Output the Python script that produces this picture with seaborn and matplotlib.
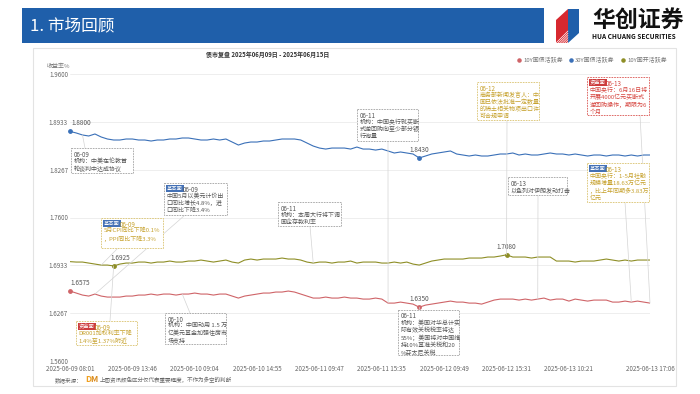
import matplotlib
matplotlib.use("Agg")
import numpy as np
import pandas as pd
import matplotlib.pyplot as plt
import seaborn as sns
from matplotlib.patches import Rectangle, Polygon, ConnectionPatch

# ---- data ----
series_names = ['10Y国债活跃券', '30Y国债活跃券', '10Y国开活跃券']
series_colors = ['#cf6468', '#3a70b8', '#8e8e26']

red_10y = [1.6575, 1.6547, 1.6519, 1.6505, 1.6533, 1.6505, 1.6491, 1.6491, 1.6491, 1.6505,
           1.6505, 1.6519, 1.6519, 1.6533, 1.6519, 1.6533, 1.6533, 1.6519, 1.6533, 1.6533,
           1.6547, 1.6533, 1.6533, 1.6519, 1.6533, 1.6533, 1.6505, 1.6477, 1.6505, 1.6519,
           1.6533, 1.6547, 1.6547, 1.6561, 1.6561, 1.6575, 1.6561, 1.6533, 1.6505, 1.6477,
           1.6477, 1.6491, 1.6477, 1.6477, 1.6491, 1.6477, 1.6477, 1.6463, 1.6463, 1.6477,
           1.6463, 1.6407, 1.6407, 1.6421, 1.6407, 1.6393, 1.6350, 1.6379, 1.6393, 1.6407,
           1.6421, 1.6435, 1.6421, 1.6421, 1.6407, 1.6407, 1.6393, 1.6421, 1.6449, 1.6463,
           1.6463, 1.6463, 1.6449, 1.6463, 1.6449, 1.6463, 1.6477, 1.6449, 1.6463, 1.6463,
           1.6435, 1.6463, 1.6449, 1.6435, 1.6449, 1.6449, 1.6449, 1.6421, 1.6421, 1.6435,
           1.6421, 1.6435, 1.6421, 1.6407]

blue_30y = [1.8800, 1.8778, 1.8750, 1.8736, 1.8764, 1.8722, 1.8694, 1.8680, 1.8680, 1.8694,
            1.8694, 1.8680, 1.8680, 1.8666, 1.8680, 1.8680, 1.8694, 1.8694, 1.8708, 1.8708,
            1.8694, 1.8680, 1.8680, 1.8694, 1.8680, 1.8694, 1.8652, 1.8610, 1.8638, 1.8652,
            1.8652, 1.8666, 1.8666, 1.8680, 1.8694, 1.8694, 1.8694, 1.8680, 1.8638, 1.8596,
            1.8568, 1.8554, 1.8568, 1.8568, 1.8568, 1.8554, 1.8582, 1.8554, 1.8554, 1.8540,
            1.8554, 1.8527, 1.8499, 1.8513, 1.8499, 1.8485, 1.8430, 1.8457, 1.8485, 1.8499,
            1.8513, 1.8527, 1.8485, 1.8471, 1.8457, 1.8471, 1.8457, 1.8457, 1.8471, 1.8485,
            1.8485, 1.8499, 1.8471, 1.8485, 1.8471, 1.8471, 1.8485, 1.8499, 1.8485, 1.8485,
            1.8471, 1.8485, 1.8471, 1.8457, 1.8471, 1.8471, 1.8457, 1.8471, 1.8471, 1.8457,
            1.8471, 1.8457, 1.8471, 1.8471]

olive_10y_cdb = [1.6985, 1.6979, 1.6979, 1.6965, 1.6951, 1.6937, 1.6937, 1.6925, 1.6951, 1.6965,
                 1.6965, 1.6979, 1.6979, 1.6965, 1.6979, 1.6979, 1.6993, 1.6979, 1.6979, 1.6993,
                 1.6993, 1.7007, 1.6993, 1.6979, 1.6993, 1.7007, 1.6979, 1.6965, 1.7007, 1.7021,
                 1.7007, 1.7021, 1.7021, 1.7021, 1.7035, 1.7021, 1.7021, 1.7007, 1.6979, 1.6965,
                 1.6979, 1.6979, 1.6965, 1.6979, 1.6979, 1.6993, 1.6965, 1.6979, 1.6979, 1.6979,
                 1.6965, 1.6965, 1.6979, 1.6965, 1.6979, 1.6951, 1.6937, 1.6965, 1.6993, 1.7007,
                 1.7021, 1.7021, 1.7021, 1.7021, 1.7035, 1.7035, 1.7035, 1.7049, 1.7049, 1.7063,
                 1.7080, 1.7049, 1.7049, 1.7049, 1.7035, 1.7049, 1.7049, 1.7049, 1.6993, 1.6993,
                 1.6993, 1.6979, 1.6993, 1.6993, 1.6993, 1.7007, 1.7021, 1.7007, 1.6993, 1.7007,
                 1.6993, 1.7007, 1.7007, 1.7007]

x_labels = ['2025-06-09 08:01', '2025-06-09 13:46', '2025-06-10 09:04', '2025-06-10 14:55',
            '2025-06-11 09:47', '2025-06-11 15:35', '2025-06-12 09:49', '2025-06-12 15:31',
            '2025-06-13 10:21', '2025-06-13 17:06']
y_labels = ['1.5600', '1.6267', '1.6933', '1.7600', '1.8267', '1.8933', '1.9600']

# news boxes: (date, tag, body lines)
note_a = ['06-09', None, ['机构：中美在伦敦首', '轮谈判中达成协议']]
note_b = ['06-09', '基本面', ['中国5月以美元计价出', '口同比增长4.8%，进', '口同比下降3.4%']]
note_c = ['06-09', '基本面', ['5月CPI同比下降0.1%', '，PPI同比下降3.3%']]
note_d = ['06-09', '资金面', ['DR001加权利率下降', '1.4%至1.37%附近']]
note_e = ['06-10', None, ['机构：中国动用 1.5 万', '亿美元基金加强住房市', '场支持']]
note_f = ['06-11', None, ['机构：本周大行将下调', '国企存款利率']]
note_g = ['06-11', None, ['机构：中国央行就买断', '式逆回购向至少部分银', '行询量']]
note_h = ['06-11', None, ['机构：美国对华总计实', '际有效关税税率将达', '55%；美国将对中国维',
                          '持10%基准关税和20', '%芬太尼关税']]
note_i = ['06-12', None, ['商务部新闻发言人：中', '国已依法批准一定数量', '的稀土相关物项出口许',
                          '可合规申请']]
note_j = ['06-13', '资金面', ['中国央行：6月16日将', '开展4000亿元买断式', '逆回购操作，期限为6', '个月']]
note_k = ['06-13', None, ['以色列对伊朗发动打击']]
note_l = ['06-13', '基本面', ['中国央行：1-5月社融', '规模增量18.63万亿元', '，比上年同期多3.83万', '亿元']]

# ---- style ----
sns.set_theme(style='white')
plt.rcParams['font.family'] = ['Noto Sans CJK SC', 'DejaVu Sans']
plt.rcParams['axes.unicode_minus'] = False

n = len(red_10y)
idx = np.arange(n)
df = pd.DataFrame({
    'idx': np.tile(idx, 3),
    'value': red_10y + blue_30y + olive_10y_cdb,
    'series': np.repeat(series_names, n),
})
palette = dict(zip(series_names, series_colors))

fig = plt.figure(figsize=(7, 3.94), dpi=100)
ax = fig.add_axes([70 / 700, 33 / 394, 580 / 700, 287 / 394])

sns.lineplot(data=df, x='idx', y='value', hue='series', palette=palette,
             linewidth=0.8, legend=False, ax=ax)

ax.set_xlim(0, n - 1)
ax.set_ylim(1.56, 1.96)
ax.set_yticks(np.linspace(1.56, 1.96, len(y_labels)))
ax.set_yticklabels(y_labels)
ax.set_xticks(list(range(0, 81, 10)) + [n - 1])
ax.set_xticklabels(x_labels)
ax.tick_params(length=0, labelsize=4.5, colors='#666666', pad=1.5)
ax.tick_params(axis='x', pad=3.2)
ax.set_xlabel('')
ax.set_ylabel('')
ax.grid(axis='y', color='#ebebeb', linewidth=0.6)
ax.set_axisbelow(True)
for s in ax.spines.values():
    s.set_visible(False)

# marked points: start / min / max values
marks = [
    (blue_30y, 0, 'left', (1, 3)),
    (blue_30y, int(np.argmin(blue_30y)), 'center', (0, 3)),
    (olive_10y_cdb, int(np.argmin(olive_10y_cdb)), 'left', (-2, 3)),
    (olive_10y_cdb, int(np.argmax(olive_10y_cdb)), 'center', (0, 3)),
    (red_10y, 0, 'left', (0, 3)),
    (red_10y, int(np.argmin(red_10y)), 'center', (0, 3)),
]
col_of = {id(red_10y): series_colors[0], id(blue_30y): series_colors[1],
          id(olive_10y_cdb): series_colors[2]}
for ser, i, ha, off in marks:
    ax.scatter([i], [ser[i]], s=6, color=col_of[id(ser)], zorder=4, clip_on=False)
    ax.annotate(f'{ser[i]:.4f}', (i, ser[i]), xytext=off, textcoords='offset points',
                ha=ha, va='bottom', fontsize=4.6, color='#555555')

# ---- overlay in pixel coordinates ----
over = fig.add_axes([0, 0, 1, 1], zorder=2)
over.set_xlim(0, 700)
over.set_ylim(394, 0)
over.axis('off')
over.patch.set_alpha(0)

# banner
over.add_patch(Rectangle((22, 8), 522, 35, color='#1f5faa', lw=0))
over.text(30, 25.5, '1. 市场回顾', fontsize=12, color='white', va='center', ha='left')

# logo
over.add_patch(Polygon([(556, 20), (568, 9), (568, 43), (556, 43)], color='#d7282f', lw=0))
over.add_patch(Polygon([(568, 9), (579, 9), (579, 33), (568, 43)], color='#1f5faa', lw=0))
for k in range(6):
    over.plot([556 + 2.2 * k, 568], [43, 43 - (12 - 2.2 * k)], color='white', lw=0.5)
over.text(592, 20, '华创证券', fontsize=16.5, fontweight='heavy', color='#111111',
          va='center', ha='left')
over.text(592, 36, 'HUA CHUANG SECURITIES', fontsize=4.7, fontweight='bold',
          color='#111111', va='center', ha='left')

# chart panel
over.add_patch(Rectangle((33, 48), 643, 338, fill=False, ec='#e3e3e3', lw=0.8))
over.text(268, 54.5, '债市复盘 2025年06月09日 - 2025年06月15日', fontsize=4.3,
          fontweight='bold', color='#333333', ha='center', va='center')
over.text(47, 66.5, '收益率%', fontsize=4.3, color='#777777', ha='left', va='center')

for name, c, lx in zip(series_names, series_colors, [519, 571, 623]):
    over.scatter([lx], [60], s=5, color=c)
    over.text(lx + 4, 60, name, fontsize=4.3, color='#777777', ha='left', va='center')

# footer
over.text(55, 380, '数据来源：', fontsize=4.0, color='#666666', ha='left', va='center')
over.text(85, 380, 'D', fontsize=6.2, fontweight='bold', color='#f0a020', ha='left', va='center')
over.text(90.5, 380, 'M', fontsize=6.2, fontweight='bold', color='#d98a1c', ha='left', va='center')
over.text(100, 380, '上图资讯颜色区分仅代表重要程度，不作为多空的判断', fontsize=4.0,
          color='#666666', ha='left', va='center')

# news notes
tag_colors = {'基本面': '#4471b5', '资金面': '#cc3d3d'}
styles = {
    'gray': ('#555555', '#a0a0a0'),
    'gold': ('#c6a12c', '#d9c26e'),
    'red': ('#d6453f', '#d9534f'),
}


def draw_note(note, x0, y0, w, h, style):
    date, tag, body = note
    txt_c, edge_c = styles[style]
    over.add_patch(Rectangle((x0, y0), w, h, fc='white', ec=edge_c, lw=0.6,
                             ls=(0, (2, 1.2)), zorder=3))
    dx = x0 + 2.5
    if tag:
        over.text(dx + 0.5, y0 + 2.8, tag, fontsize=3.8, color='white', ha='left', va='top',
                  bbox=dict(boxstyle='square,pad=0.15', fc=tag_colors[tag], ec='none'),
                  zorder=4)
        dx += 16
    over.text(dx, y0 + 2.5, date, fontsize=4.5, color=txt_c, ha='left', va='top', zorder=4)
    for k, line in enumerate(body):
        over.text(x0 + 2.5, y0 + 2.5 + 7.4 * (k + 1), line, fontsize=4.3, color=txt_c,
                  ha='left', va='top', zorder=4)


def leader(px, py, ser, i):
    con = ConnectionPatch(xyA=(px, py), coordsA=over.transData, xyB=(i, ser[i]),
                          coordsB=ax.transData, color='#d4d4d4', lw=0.5, zorder=1)
    fig.add_artist(con)


leader(85, 148, blue_30y, 2)
leader(185, 215, red_10y, 4)
leader(118, 248, olive_10y_cdb, 5)
leader(110, 321, olive_10y_cdb, 7)
leader(190, 313, red_10y, 18)
leader(310, 226, olive_10y_cdb, 39)
leader(388, 141, red_10y, 51)
leader(420, 310, red_10y, 56)
leader(507, 120, olive_10y_cdb, 70)
leader(538, 195, red_10y, 75)
leader(625, 202, red_10y, 90)
leader(640, 115, red_10y, 93)

draw_note(note_a, 71, 148, 62, 25, 'gray')
draw_note(note_b, 164, 183, 63, 32, 'gray')
draw_note(note_c, 101, 218, 62, 30, 'gold')
draw_note(note_d, 76, 321, 61, 24, 'gold')
draw_note(note_e, 165, 313, 61, 31, 'gray')
draw_note(note_f, 278, 202, 63, 24, 'gray')
draw_note(note_g, 357, 109, 61, 32, 'gray')
draw_note(note_h, 398, 310, 61, 45, 'gray')
draw_note(note_i, 477, 82, 62, 38, 'gold')
draw_note(note_j, 587, 77, 62, 38, 'red')
draw_note(note_k, 508, 177, 59, 18, 'gray')
draw_note(note_l, 587, 163, 62, 39, 'gold')

fig.savefig('out.png', dpi=100)
